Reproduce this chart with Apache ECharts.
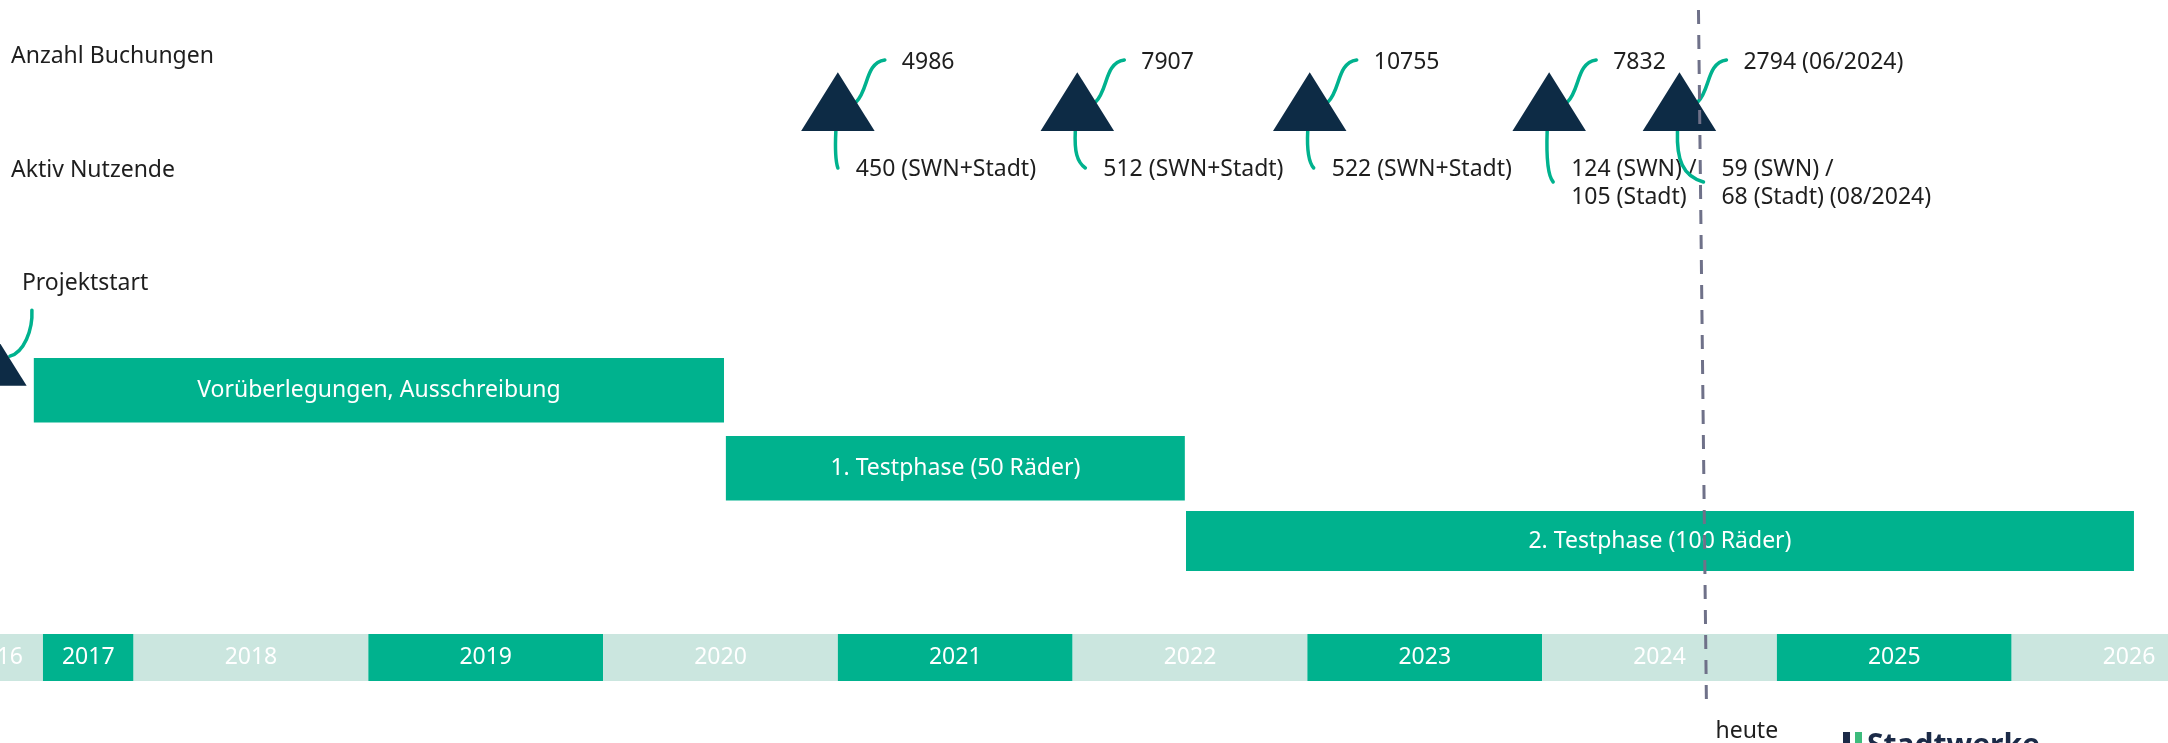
<!DOCTYPE html>
<html>
<head>
    <meta charset="utf-8">
    <script src="https://cdn.jsdelivr.net/npm/echarts@6/dist/echarts.min.js"></script>
    <style>
        html, body { margin: 0; padding: 0; background: #fff; }
    </style>
</head>
<body>
    <div id="main" style="width: 2168px;height:743px;"></div>
    <script type="text/javascript">
        // Jahresleiste (Beginn / Ende in Jahren)
        var years = ['2016', '2017', '2018', '2019', '2020', '2021', '2022', '2023', '2024', '2025', '2026'];
        var yearFrom = [2017.22, 2017.614, 2018, 2019, 2020, 2021, 2022, 2023, 2024, 2025, 2026];
        var yearTo = [2017.614, 2018, 2019, 2020, 2021, 2022, 2023, 2024, 2025, 2026, 2027];

        // Projektphasen
        var phases = ['Vorüberlegungen, Ausschreibung', '1. Testphase (50 Räder)', '2. Testphase (100 Räder)'];
        var phaseFrom = [2017.575, 2020.523, 2022.483];
        var phaseTo = [2020.515, 2022.478, 2026.521];

        // Meilensteine
        var projektstart = 2017.388;
        var milestones = [2021.0, 2022.02, 2023.01, 2024.03, 2024.585];
        var buchungen = ['4986', '7907', '10755', '7832', '2794 (06/2024)'];
        var nutzende = ['450 (SWN+Stadt)', '512 (SWN+Stadt)', '522 (SWN+Stadt)',
            '124 (SWN) /\n105 (Stadt)', '59 (SWN) /\n68 (Stadt) (08/2024)'];
        var heute = 2024.683;

        // Layout: Zeilen (y-Achse läuft 0..743 von oben nach unten)
        var yBuch = 60, yMs = 101.7, yNutz = 168, yStartLabel = 283, yStartTri = 356.5;
        var bandRow = [634, 681];
        var phaseRows = [[358, 422.5], [436, 500.5], [511, 571]];
        var heuteRow = [10, 708], yHeuteLabel = 731;
        var nutzDx = [18, 26, 22, 22, 42];

        var GREEN = '#00b28e', MINT = '#cbe6df', NAVY = '#0d2b45', GREY = '#6f7189', INK = '#1e1e1e';
        var FONT = '23px "Noto Sans"';
        var TRI_W = 73.5, TRI_H = 58.7;

        var myChart = echarts.init(document.getElementById('main'));

        function curve(x1, y1, c1x, c1y, c2x, c2y, x2, y2) {
            return {
                type: 'bezierCurve',
                shape: { x1: x1, y1: y1, cpx1: c1x, cpy1: c1y, cpx2: c2x, cpy2: c2y, x2: x2, y2: y2 },
                style: { stroke: GREEN, lineWidth: 3.5, fill: null, lineCap: 'round' }
            };
        }

        myChart.setOption({
            animation: false,
            grid: { left: 0, right: 0, top: 0, bottom: 0 },
            xAxis: { type: 'value', min: 2017.431, max: 2026.666, show: false },
            yAxis: { type: 'value', min: 0, max: 743, inverse: true, show: false },
            graphic: [
                { type: 'text', x: 11, y: 56, style: { text: 'Anzahl Buchungen', fill: INK, font: FONT, verticalAlign: 'middle' } },
                { type: 'text', x: 11, y: 170, style: { text: 'Aktiv Nutzende', fill: INK, font: FONT, verticalAlign: 'middle' } },
                { type: 'rect', x: 1843, y: 732, shape: { width: 7, height: 20 }, style: { fill: '#1b2a47' } },
                { type: 'rect', x: 1855, y: 732, shape: { width: 7, height: 20 }, style: { fill: '#3dbb7c' } },
                { type: 'text', x: 1867, y: 731, style: { text: 'Stadtwerke', fill: '#1b2a47', font: 'bold 30px "Noto Sans"' } }
            ],
            series: [
                {
                    // Jahresleiste
                    type: 'custom',
                    data: years.map(function (y, i) { return [yearFrom[i], yearTo[i]]; }),
                    encode: { x: [0, 1] },
                    renderItem: function (params, api) {
                        var i = params.dataIndex;
                        var p0 = api.coord([api.value(0), bandRow[0]]);
                        var p1 = api.coord([api.value(1), bandRow[1]]);
                        return {
                            type: 'group',
                            children: [
                                { type: 'rect', shape: { x: p0[0], y: p0[1], width: p1[0] - p0[0], height: p1[1] - p0[1] },
                                  style: { fill: i % 2 ? GREEN : MINT } },
                                { type: 'text', style: { text: years[i], x: (p0[0] + p1[0]) / 2, y: (p0[1] + p1[1]) / 2,
                                  fill: '#fff', font: FONT, align: 'center', verticalAlign: 'middle' } }
                            ]
                        };
                    }
                },
                {
                    // Phasen
                    type: 'custom',
                    data: phases.map(function (p, i) { return [phaseFrom[i], phaseTo[i]]; }),
                    encode: { x: [0, 1] },
                    renderItem: function (params, api) {
                        var i = params.dataIndex;
                        var p0 = api.coord([api.value(0), phaseRows[i][0]]);
                        var p1 = api.coord([api.value(1), phaseRows[i][1]]);
                        return {
                            type: 'group',
                            children: [
                                { type: 'rect', shape: { x: p0[0], y: p0[1], width: p1[0] - p0[0], height: p1[1] - p0[1] },
                                  style: { fill: GREEN } },
                                { type: 'text', style: { text: phases[i], x: (p0[0] + p1[0]) / 2, y: (p0[1] + p1[1]) / 2,
                                  fill: '#fff', font: FONT, align: 'center', verticalAlign: 'middle' } }
                            ]
                        };
                    }
                },
                {
                    // Verbindungslinien und Beschriftungen der Meilensteine
                    type: 'custom',
                    data: milestones.map(function (m, i) { return [m, i]; }),
                    encode: { x: 0 },
                    renderItem: function (params, api) {
                        var i = params.dataIndex;
                        var c = api.coord([api.value(0), yMs]);
                        var ax = c[0], by = c[1] + TRI_H / 2;
                        var yb = api.coord([api.value(0), yBuch])[1];
                        var yn = api.coord([api.value(0), yNutz])[1];
                        var lines = nutzende[i].split('\n').length;
                        var lx = ax + nutzDx[i];
                        var endY = yn + (lines - 1) * 14;
                        var endX = lx - 18;
                        return {
                            type: 'group',
                            children: [
                                curve(ax + 18.5, c[1], ax + 31, c[1] - 12, ax + 27, yb + 3, ax + 47, yb),
                                curve(ax - 2, by, ax - 3, by + (endY - by) * 0.55, ax + (endX - ax) * 0.2 - 2, endY - 6, endX, endY),
                                { type: 'text', style: { text: buchungen[i], x: ax + 64, y: yb - 12, lineHeight: 28,
                                  fill: INK, font: FONT, align: 'left', verticalAlign: 'top' } },
                                { type: 'text', style: { text: nutzende[i], x: lx, y: yn - 13, lineHeight: 28,
                                  fill: INK, font: FONT, align: 'left', verticalAlign: 'top' } }
                            ]
                        };
                    }
                },
                {
                    // Projektstart
                    type: 'custom',
                    data: [[projektstart]],
                    encode: { x: 0 },
                    renderItem: function (params, api) {
                        var c = api.coord([api.value(0), yStartTri]);
                        var ax = c[0], ay = c[1] - TRI_H / 2;
                        var yl = api.coord([api.value(0), yStartLabel])[1];
                        return {
                            type: 'group',
                            children: [
                                curve(ax + 20, ay + 29, ax + 34, ay + 25, ax + 43, ay + 3, ax + 42, ay - 17),
                                { type: 'text', style: { text: 'Projektstart', x: ax + 32, y: yl,
                                  fill: INK, font: FONT, align: 'left', verticalAlign: 'middle' } }
                            ]
                        };
                    }
                },
                {
                    // Dreiecke
                    type: 'scatter',
                    clip: false,
                    symbol: 'triangle',
                    symbolSize: [TRI_W, TRI_H],
                    itemStyle: { color: NAVY, opacity: 1 },
                    data: milestones.map(function (m) { return [m, yMs]; }).concat([[projektstart, yStartTri]])
                },
                {
                    // heute
                    type: 'custom',
                    z: 10,
                    data: [[heute]],
                    encode: { x: 0 },
                    renderItem: function (params, api) {
                        var p0 = api.coord([api.value(0), heuteRow[0]]);
                        var p1 = api.coord([api.value(0), heuteRow[1]]);
                        var yl = api.coord([api.value(0), yHeuteLabel])[1];
                        return {
                            type: 'group',
                            children: [
                                { type: 'line', shape: { x1: p0[0] - 4, y1: p0[1], x2: p1[0] + 4, y2: p1[1] },
                                  style: { stroke: GREY, lineWidth: 3, lineDash: [14, 11] } },
                                { type: 'text', style: { text: 'heute', x: p1[0] + 13, y: yl,
                                  fill: INK, font: FONT, align: 'left', verticalAlign: 'middle' } }
                            ]
                        };
                    }
                }
            ]
        });
    </script>
</body>
</html>
